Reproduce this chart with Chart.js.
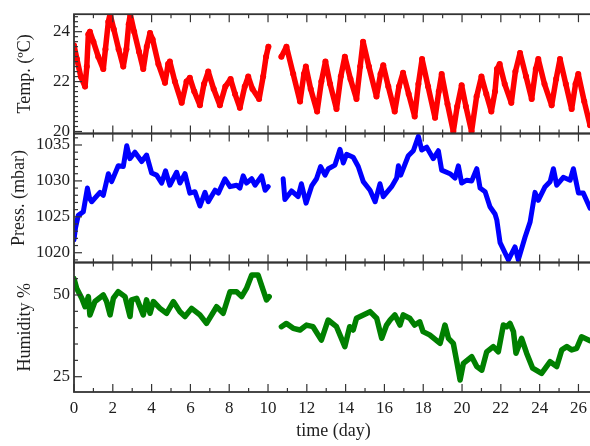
<!DOCTYPE html>
<html>
<head>
<meta charset="utf-8">
<script src="https://cdn.jsdelivr.net/npm/chart.js@4.4.0/dist/chart.umd.min.js"></script>
<style>
  html, body { margin: 0; padding: 0; background: #fff; overflow: hidden; }
  #wrap { position: relative; width: 590px; height: 446px; overflow: hidden; }
  #wrap canvas { position: absolute; left: 0; top: 0; }
</style>
</head>
<body>
<div id="wrap">
  <canvas id="cTemp" width="600" height="446"></canvas>
  <canvas id="cPress" width="600" height="446"></canvas>
  <canvas id="cHum" width="600" height="446"></canvas>
</div>
<script>
// Station log over ~26.5 days: temperature, pressure, relative humidity.
// A null entry marks the recording gap after day 10.

const tempDays = [0.00,0.15,0.35,0.57,0.66,0.74,0.82,1.00,1.25,1.51,1.62,1.77,1.86,2.05,2.30,2.54,2.70,2.82,2.90,3.10,3.35,3.57,3.75,3.92,4.05,4.35,4.69,4.85,4.94,5.20,5.55,5.80,5.97,6.20,6.49,6.70,6.92,7.20,7.52,7.80,8.07,8.30,8.55,8.80,8.98,9.20,9.54,9.75,9.90,10.02,
  10.35,
  10.69,10.95,11.30,11.65,11.85,11.95,12.20,12.53,12.75,12.96,13.20,13.53,13.75,13.96,14.25,14.56,14.75,14.90,15.20,15.59,15.80,15.94,16.20,16.53,16.75,16.96,17.25,17.56,17.75,17.94,18.25,18.61,18.80,18.95,19.25,19.55,19.75,19.98,20.20,20.49,20.75,21.00,21.25,21.51,21.70,21.80,21.94,22.20,22.54,22.75,22.99,23.30,23.59,23.80,23.93,24.25,24.62,24.85,25.05,25.35,25.65,25.85,25.99,26.30,26.60];
const tempValues = [23.45,22.9,22.2,21.8,22.6,23.9,24.0,23.6,23.0,22.5,23.3,24.4,24.7,24.1,23.3,22.6,23.3,24.3,24.7,24.0,23.2,22.5,23.4,23.95,23.7,22.7,21.95,22.7,22.8,22.0,21.15,22.0,22.15,21.6,21.05,21.9,22.4,21.7,21.05,21.8,22.1,21.5,20.95,21.8,22.2,21.7,21.3,22.2,23.0,23.4,
  null,
  23.0,23.4,22.3,21.2,22.3,22.6,21.7,20.8,22.0,22.8,21.9,20.9,22.2,23.0,22.1,21.3,22.6,23.6,22.6,21.4,22.3,22.65,21.8,20.8,21.8,22.35,21.5,20.6,21.9,22.9,21.8,20.55,21.6,22.3,21.1,20.0,21.0,21.85,21.0,20.0,21.4,22.2,21.5,20.8,21.6,22.5,22.7,21.9,21.15,22.4,23.15,22.2,21.3,22.5,22.9,21.9,21.05,22.1,22.9,21.9,20.9,21.9,22.3,21.2,20.25];

const pressDays = [0.00,0.08,0.22,0.48,0.69,0.80,0.91,1.34,1.51,1.77,1.94,2.28,2.54,2.72,2.88,3.14,3.49,3.74,4.00,4.26,4.52,4.72,4.94,5.29,5.46,5.72,5.97,6.23,6.49,6.75,6.92,7.27,7.44,7.78,8.04,8.38,8.55,8.72,8.89,9.16,9.33,9.67,9.85,10.01,
  10.35,
  10.78,10.87,11.21,11.55,11.72,11.96,12.25,12.50,12.71,12.94,13.11,13.45,13.71,13.88,14.05,14.39,14.65,14.91,15.26,15.52,15.77,15.94,16.37,16.63,16.72,16.84,17.23,17.49,17.75,17.92,18.18,18.52,18.78,18.95,19.38,19.64,19.81,19.98,20.24,20.50,20.76,20.93,21.19,21.44,21.70,21.79,21.96,22.39,22.73,22.90,23.25,23.51,23.76,23.93,24.28,24.54,24.71,24.88,25.22,25.57,25.74,26.00,26.25,26.60];
const pressValues = [1021.8,1023.5,1025.2,1025.7,1029.0,1027.6,1027.1,1028.4,1028.0,1031.0,1029.9,1032.1,1032.0,1034.9,1033.1,1034.0,1032.7,1033.6,1031.1,1030.8,1029.7,1031.4,1029.4,1031.2,1029.7,1031.0,1028.3,1028.5,1026.5,1028.4,1027.1,1028.7,1028.3,1030.3,1029.2,1029.4,1029.0,1030.7,1029.7,1030.3,1029.4,1030.7,1028.7,1029.2,
  null,
  1030.3,1027.4,1028.6,1027.8,1029.6,1026.9,1029.3,1030.3,1032.0,1030.8,1031.7,1032.2,1034.4,1032.5,1033.7,1033.3,1032.0,1029.9,1028.7,1027.1,1029.6,1027.8,1029.2,1030.4,1032.1,1030.8,1033.5,1034.2,1036.2,1034.3,1034.7,1033.1,1034.2,1031.5,1031.0,1030.4,1032.1,1029.7,1030.1,1030.0,1031.7,1029.0,1028.5,1026.4,1025.4,1024.6,1021.4,1019.0,1020.8,1019.0,1022.2,1024.3,1028.4,1027.3,1029.2,1029.9,1031.7,1029.4,1030.5,1030.1,1031.7,1028.3,1028.3,1026.2];

const humDays = [0.00,0.14,0.40,0.57,0.74,0.82,1.08,1.51,1.68,1.86,2.03,2.28,2.63,2.89,2.97,3.23,3.57,3.74,3.92,4.09,4.43,4.77,5.12,5.46,5.72,6.06,6.49,6.83,7.35,7.69,8.04,8.38,8.64,8.89,9.16,9.49,9.75,9.92,10.06,
  10.35,
  10.69,10.95,11.30,11.65,11.98,12.32,12.75,13.10,13.53,13.96,14.21,14.39,14.56,14.91,15.26,15.60,15.86,16.11,16.29,16.54,16.80,16.97,17.30,17.56,17.82,17.99,18.33,18.87,19.12,19.30,19.55,19.73,19.90,20.07,20.50,20.76,21.02,21.27,21.61,21.87,22.13,22.30,22.47,22.65,22.78,23.07,23.33,23.64,24.10,24.54,24.88,25.14,25.40,25.65,25.91,26.16,26.60];
const humValues = [55.0,52.0,49.0,46.4,49.5,43.9,48.0,50.0,48.0,43.9,49.0,51.0,49.5,43.4,48.5,49.0,43.9,48.5,44.4,48.0,45.9,44.4,48.0,44.9,43.4,45.9,43.9,41.3,46.4,44.4,51.0,51.0,49.5,52.0,56.1,56.1,51.5,48.5,49.5,
  null,
  40.3,41.3,39.8,39.3,40.8,40.3,36.2,42.35,40.3,34.2,40.3,39.3,42.9,43.9,44.9,42.9,36.75,40.8,42.3,43.9,40.8,43.9,42.9,40.8,41.8,38.8,37.8,35.2,40.8,36.75,35.2,29.6,24.0,29.1,31.1,28.1,27.0,32.6,34.2,32.6,40.8,40.3,41.3,38.8,32.2,36.75,32.2,27.6,26.0,29.6,28.1,33.2,34.2,33.2,33.7,37.2,36.0];

// Labelled tick values
const dayTicks   = [0, 2, 4, 6, 8, 10, 12, 14, 16, 18, 20, 22, 24, 26];
const tempTicks  = [20, 22, 24];
const pressTicks = [1020, 1025, 1030, 1035];
const humTicks   = [25, 50];

const FONT = "'Liberation Serif', 'Times New Roman', Times, serif";
const INK = '#333333';
const TEXT = '#1e1e1e';
const X_MIN = 0, X_MAX = 26.75;

function points(xs, ys) { return xs.map((d, i) => ({ x: d, y: ys[i] })); }

// Draws the panel frame plus inward tick marks on left, top and bottom edges
const frameTicks = {
  id: 'frameTicks',
  afterDraw(chart, args, opts) {
    const { ctx, chartArea: a } = chart;
    const x = chart.scales.x, y = chart.scales.y;
    ctx.save();
    ctx.strokeStyle = INK;
    ctx.lineWidth = 1.2;
    const seg = (x1, y1, x2, y2) => { ctx.beginPath(); ctx.moveTo(x1, y1); ctx.lineTo(x2, y2); ctx.stroke(); };
    for (let d = 0; d <= Math.floor(X_MAX); d++) {
      const px = x.getPixelForValue(d);
      const len = d % 2 === 0 ? 8 : 4;
      seg(px, a.bottom, px, a.bottom - len);
      seg(px, a.top, px, a.top + len);
    }
    const step = opts.minorStep;
    const i0 = Math.ceil(y.min / step - 1e-6), i1 = Math.floor(y.max / step + 1e-6);
    for (let i = i0; i <= i1; i++) {
      const v = i * step;
      const py = y.getPixelForValue(v);
      const major = Math.abs(v / opts.majorStep - Math.round(v / opts.majorStep)) < 1e-6;
      seg(a.left, py, a.left + (major ? 8 : 4), py);
    }
    ctx.lineWidth = 1.8;
    ctx.strokeRect(a.left, a.top, a.right - a.left, a.bottom - a.top);
    ctx.restore();
  }
};

function panel(id, p) {
  return new Chart(document.getElementById(id), {
    type: 'line',
    data: { datasets: [p.dataset] },
    options: {
      responsive: false,
      animation: false,
      events: [],
      layout: { padding: { left: 0, right: 7, top: p.padTop, bottom: p.padBottom } },
      plugins: {
        legend: { display: false },
        tooltip: { enabled: false },
        frameTicks: { minorStep: p.minorStep, majorStep: p.majorStep }
      },
      scales: {
        x: {
          type: 'linear', min: X_MIN, max: X_MAX,
          display: p.showX,
          afterBuildTicks: s => { s.ticks = dayTicks.map(v => ({ value: v })); },
          afterFit: s => { if (p.showX) s.height = 54; },
          grid: { display: false, drawTicks: false },
          border: { display: false },
          ticks: { font: { family: FONT, size: 17 }, color: TEXT, padding: 6, maxRotation: 0, autoSkip: false },
          title: { display: p.showX, text: 'time (day)', font: { family: FONT, size: 18 }, color: TEXT, padding: { top: 0, bottom: 4 } }
        },
        y: {
          type: 'linear', min: p.yMin, max: p.yMax,
          afterFit: s => { s.width = 74; },
          afterBuildTicks: s => { s.ticks = p.yTicks.map(v => ({ value: v })); },
          grid: { display: false, drawTicks: false },
          border: { display: false },
          ticks: { font: { family: FONT, size: 17 }, color: TEXT, padding: 4, callback: v => String(v) },
          title: { display: true, text: p.title, font: { family: FONT, size: 18 }, color: TEXT, padding: { top: p.titlePad, bottom: 0 } }
        }
      }
    },
    plugins: [frameTicks]
  });
}

panel('cTemp', {
  dataset: {
    data: points(tempDays, tempValues),
    borderColor: '#ff0000', backgroundColor: '#ff0000',
    borderWidth: 5.5, pointRadius: 3, pointBorderWidth: 0,
    tension: 0, spanGaps: false, clip: 0, borderJoinStyle: 'round', borderCapStyle: 'round'
  },
  padTop: 4.5, padBottom: 312.5, showX: false,
  yMin: 19.92, yMax: 24.70, yTicks: tempTicks, minorStep: 0.2, majorStep: 2,
  title: 'Temp. (\u00BAC)', titlePad: 14
});

panel('cPress', {
  dataset: {
    data: points(pressDays, pressValues),
    borderColor: '#0000ff', borderWidth: 5, pointRadius: 0,
    tension: 0, spanGaps: false, clip: 0, borderJoinStyle: 'round', borderCapStyle: 'round'
  },
  padTop: 133.5, padBottom: 183.5, showX: false,
  yMin: 1018.64, yMax: 1036.6, yTicks: pressTicks, minorStep: 1, majorStep: 5,
  title: 'Press. (mbar)', titlePad: 8
});

panel('cHum', {
  dataset: {
    data: points(humDays, humValues),
    borderColor: '#008000', borderWidth: 5.5, pointRadius: 0,
    tension: 0, spanGaps: false, clip: 0, borderJoinStyle: 'round', borderCapStyle: 'round'
  },
  padTop: 262.5, padBottom: 0, showX: true,
  yMin: 20.32, yMax: 59.94, yTicks: humTicks, minorStep: 5, majorStep: 25,
  title: 'Humidity %', titlePad: 14
});
</script>
</body>
</html>
